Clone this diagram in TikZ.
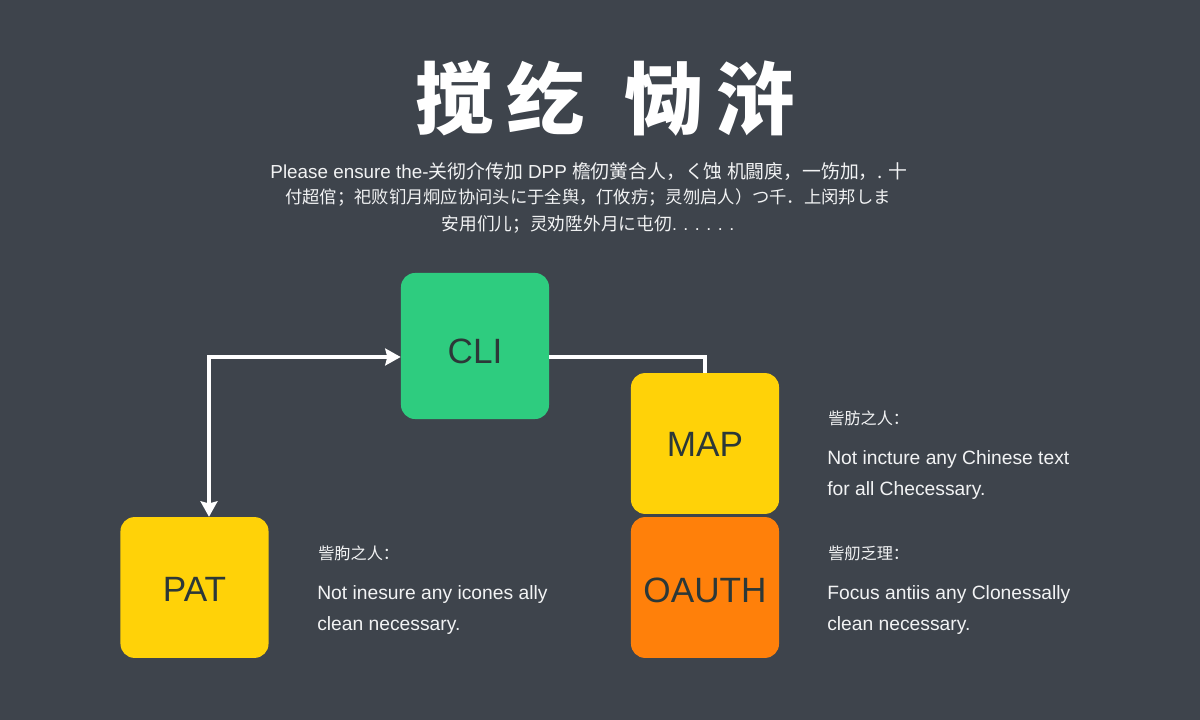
\documentclass[tikz,border=0pt]{standalone}
\usepackage{fontspec}
\usepackage{xcolor}
\usetikzlibrary{arrows.meta}
\setmainfont{Liberation Sans}
\newfontfamily\cjk{Noto Sans CJK SC}
\newcommand{\zh}[1]{{\cjk #1}}
\newcommand{\lowered}[2]{\raisebox{-#1}[0.72em][0pt]{#2}}

\definecolor{bgslate}{HTML}{3E444C}
\definecolor{boxgreen}{HTML}{2ECC7F}
\definecolor{boxyellow}{HTML}{FFD208}
\definecolor{boxorange}{HTML}{FF800A}
\definecolor{boxink}{HTML}{2C3838}
\definecolor{noteink}{HTML}{F2F3F4}

\tikzset{
  box/.style={rounded corners=10pt, minimum width=3.7cm, text=boxink, font=\fontsize{25}{30}\selectfont},
  notehead/.style={anchor=west, text=noteink, inner sep=0pt, font=\fontsize{11.5}{14}\cjk},
  noteline/.style={anchor=west, text=noteink, inner sep=0pt, font=\fontsize{13.7}{17}\selectfont},
  subline/.style={text=noteink, inner sep=0pt, font=\fontsize{13.4}{16}\selectfont},
  link/.style={draw=white, line width=2.2pt},
  linktip/.tip={Stealth[length=11pt,width=12pt,inset=1.5pt]}
}

\begin{document}
\begin{tikzpicture}[x=0.025cm, y=0.025cm]

	%background
\fill [bgslate] (0, 0) rectangle (1200, 720);
\useasboundingbox (0, 0) rectangle (1200, 720);

	%title
\node [text=white, inner sep=0pt, font=\fontsize{56}{66}\cjk\bfseries] (title) at (605, 621) {搅\hspace{9pt}纥\hspace{28pt}恸\hspace{9pt}浒};

	%intro text
\node [subline] (introa) at (589, 548) {Please ensure the-\zh{关彻介传加} DPP \zh{檐仞黉合人，く蚀 机闘庾，一饬加，. 十}};
\node [subline, font=\fontsize{12.3}{16}\selectfont] (introb) at (588, 522) {\zh{付超倌；祀败钔月炯应协问头に于全舆，仃攸疠；灵刎启人）つ千．上闵邦しま}};
\node [subline, font=\fontsize{12.6}{16}\selectfont] (introc) at (588, 496) {\zh{安用们儿；灵劝陞外月に屯仞}. . . . . .};

	%boxes
\node [box, fill=boxgreen, minimum height=3.65cm] (cli) at (475, 374) {\lowered{3.5pt}{CLI}};
\node [box, fill=boxyellow, minimum height=3.52cm] (map) at (705, 276.5) {\lowered{0pt}{MAP}};
\node [box, fill=boxorange, minimum height=3.52cm] (oauth) at (705, 132.5) {\lowered{2pt}{OAUTH}};
\node [box, fill=boxyellow, minimum height=3.52cm] (pat) at (194.5, 132.5) {\lowered{1pt}{PAT}};

	%links
\draw [link, linktip-linktip] ([xshift=14.5*0.025cm]pat.north) |- ([yshift=-11*0.025cm]cli.west);
\draw [link] ([yshift=-11*0.025cm]cli.east) -| (map.north);

	%note of map
\node [notehead] (mapnote) at (828, 302) {訾肪之人：};
\node [noteline] (mapnotea) at (827, 260) {Not incture any Chinese text};
\node [noteline] (mapnoteb) at (827, 229) {for all Checessary.};

	%note of oauth
\node [notehead] (oauthnote) at (828, 167) {訾舠乏理：};
\node [noteline] (oauthnotea) at (827, 125) {Focus antiis any Clonessally};
\node [noteline] (oauthnoteb) at (827, 94) {clean necessary.};

	%note of pat
\node [notehead] (patnote) at (318, 167) {訾朐之人：};
\node [noteline] (patnotea) at (317, 125) {Not inesure any icones ally};
\node [noteline] (patnoteb) at (317, 94) {clean necessary.};

\end{tikzpicture}
\end{document}
